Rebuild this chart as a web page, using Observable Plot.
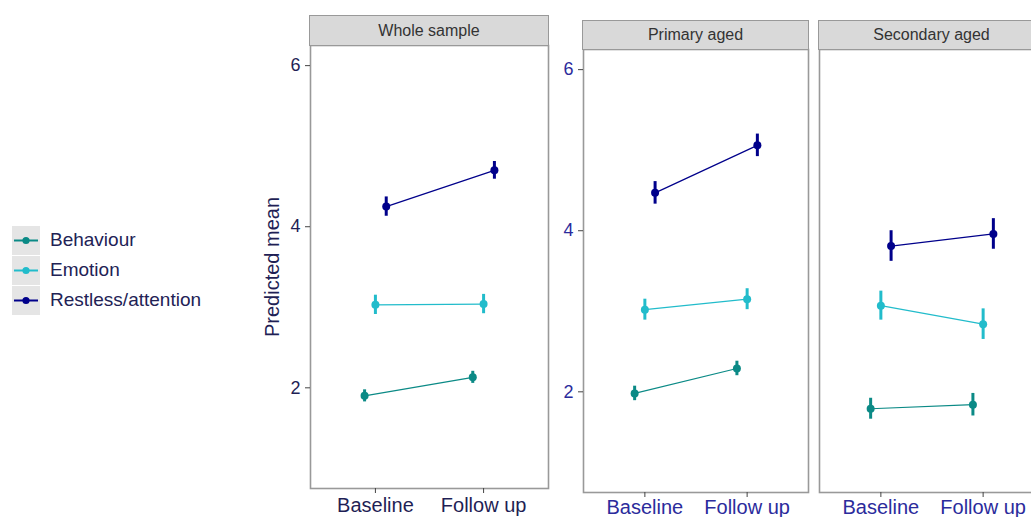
<!DOCTYPE html>
<html><head><meta charset="utf-8">
<script src="https://cdn.jsdelivr.net/npm/d3@7"></script>
<script src="https://cdn.jsdelivr.net/npm/@observablehq/plot@0.6"></script>
<style>
html,body{margin:0;padding:0;background:#fff;}
#root{position:relative;width:1031px;height:517px;overflow:hidden;font-family:"Liberation Sans",Arial,sans-serif;background:#fff;}
.strip{position:absolute;box-sizing:border-box;background:#d9d9d9;border:1.5px solid #999;color:#333;font-size:16px;display:flex;align-items:center;justify-content:center;}
.plot{position:absolute;}
.legend{position:absolute;left:12px;top:225px;}
.legend .row{display:flex;align-items:center;height:30px;}
.legend .key{width:28px;height:29px;background:#e5e5e5;margin-right:10px;}
.legend .lab{font-size:19px;color:#222255;}
</style></head><body><div id="root"></div>
<script>
const series = ["Behaviour", "Emotion", "Restless/attention"];
const timepoints = ["Baseline", "Follow up"];
const groups = ["Whole sample", "Primary aged", "Secondary aged"];
// values ordered: group (Whole, Primary, Secondary) x timepoint (Baseline, Follow up)
const behaviourMean = [1.90, 2.13, 1.98, 2.29, 1.79, 1.84];
const behaviourErr  = [0.075, 0.075, 0.09, 0.09, 0.13, 0.14];
const emotionMean   = [3.03, 3.04, 3.02, 3.15, 3.07, 2.84];
const emotionErr    = [0.12, 0.12, 0.13, 0.13, 0.18, 0.19];
const restlessMean  = [4.25, 4.70, 4.47, 5.06, 3.81, 3.96];
const restlessErr   = [0.12, 0.11, 0.14, 0.14, 0.19, 0.19];
const yTicks = [2, 4, 6];
const colors = ["#0b8a86", "#22bccb", "#00008b"];

const means = [behaviourMean, emotionMean, restlessMean];
const errs = [behaviourErr, emotionErr, restlessErr];
const rows = [];
groups.forEach((g, gi) => {
  series.forEach((s, si) => {
    timepoints.forEach((t, ti) => {
      const k = gi * 2 + ti;
      rows.push({group: g, series: s, time: t,
        xd: ti + 1 + (si - 1) * 0.1,
        mean: means[si][k], lo: means[si][k] - errs[si][k], hi: means[si][k] + errs[si][k]});
    });
  });
});

const font = '"Liberation Sans", Arial, sans-serif';
function makePlot({data, width, height, marginLeft, marginBottom, textColor, facet, yLabel, xPad}) {
  const f = facet ? {fx: "group"} : {};
  const marks = [
    Plot.frame({stroke: "#999", strokeWidth: 1.6}),
    Plot.axisY({ticks: yTicks, tickFormat: d3.format("d"), tickSize: 5, tickPadding: 5, fontSize: 18, fill: textColor, stroke: "#444", label: null}),
    Plot.axisX({ticks: [1, 2], tickFormat: i => timepoints[i - 1], tickSize: 5, tickPadding: xPad, fontSize: 20, fill: textColor, stroke: "#444", label: null}),
    Plot.line(data, {x: "xd", y: "mean", z: "series", stroke: "series", strokeWidth: 1.2, ...f}),
    Plot.ruleX(data, {x: "xd", y1: "lo", y2: "hi", stroke: "series", strokeWidth: 3, ...f}),
    Plot.dot(data, {x: "xd", y: "mean", fill: "series", r: 4, ...f})
  ];
  if (yLabel) marks.push(Plot.text([yLabel], {frameAnchor: "left", rotate: -90, textAnchor: "middle", dx: -38, fontSize: 20, fill: "#1f1f55"}));
  return Plot.plot({
    width, height, marginLeft, marginRight: 2, marginTop: 1, marginBottom,
    style: {fontFamily: font, background: "transparent", overflow: "visible"},
    x: {domain: [0.4, 2.6], axis: null},
    y: {domain: [0.75, 6.25], axis: null},
    color: {domain: series, range: colors},
    fx: facet ? {domain: groups.slice(1), paddingInner: 11 / 236, paddingOuter: 0, axis: null, label: null} : undefined,
    marks
  });
}

const root = document.getElementById("root");
function place(el, left, top) { el.classList.add("plot"); el.style.left = left + "px"; el.style.top = top + "px"; root.appendChild(el); }

const whole = rows.filter(d => d.group === groups[0]);
const sub = rows.filter(d => d.group !== groups[0]);
place(makePlot({data: whole, width: 310, height: 472, marginLeft: 70, marginBottom: 28, textColor: "#1f1f55", facet: false, yLabel: "Predicted mean", xPad: 4}), 240, 44);
place(makePlot({data: sub, width: 526, height: 469, marginLeft: 63, marginBottom: 25, textColor: "#2b2b9c", facet: true, xPad: 2}), 520, 48);

function strip(text, left, top, width, height) {
  const d = document.createElement("div");
  d.className = "strip"; d.textContent = text;
  Object.assign(d.style, {left: left + "px", top: top + "px", width: width + "px", height: height + "px"});
  root.appendChild(d);
}
strip(groups[0], 309, 15, 240, 31);
strip(groups[1], 582, 20, 227, 30);
strip(groups[2], 818, 20, 227, 30);

const leg = document.createElement("div");
leg.className = "legend";
series.forEach((s, i) => {
  const r = document.createElement("div"); r.className = "row";
  const k = document.createElement("div"); k.className = "key";
  k.innerHTML = `<svg width="28" height="29"><line x1="2" x2="26" y1="14.5" y2="14.5" stroke="${colors[i]}" stroke-width="2"/><circle cx="14" cy="14.5" r="3.6" fill="${colors[i]}"/></svg>`;
  const l = document.createElement("div"); l.className = "lab"; l.textContent = s;
  r.appendChild(k); r.appendChild(l); leg.appendChild(r);
});
root.appendChild(leg);
</script></body></html>
